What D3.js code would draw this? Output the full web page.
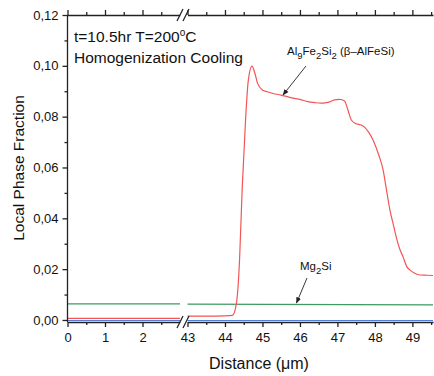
<!DOCTYPE html>
<html>
<head>
<meta charset="utf-8">
<script src="https://cdn.jsdelivr.net/npm/d3@7"></script>
<style>
  html, body { margin: 0; padding: 0; background: #fff; }
  svg { display: block; font-family: "Liberation Sans", Arial, sans-serif; }
</style>
</head>
<body>
<svg id="chart" width="434" height="376"></svg>
<script>
// Broken x axis: a short segment near the origin and the interface region.
const leftDomain = [0, 3];
const rightDomain = [43, 49.55];
const leftTicks = [0, 1, 2];
const rightTicks = [43, 44, 45, 46, 47, 48, 49];
const yTicks = [0, 0.02, 0.04, 0.06, 0.08, 0.10, 0.12];

// Al9Fe2Si2 (beta-AlFeSi) phase fraction
const alfesiLeftX = [0, 3];
const alfesiLeftY = [0.0006, 0.0006];
const alfesiRightX = [43.0, 43.5, 44.0, 44.2, 44.3, 44.39, 44.46, 44.55, 44.62, 44.72, 44.8, 44.87, 45.0, 45.13, 45.3, 45.49, 45.7, 45.85, 46.0, 46.21, 46.4, 46.57, 46.7, 46.79, 46.92, 47.06, 47.19, 47.28, 47.37, 47.5, 47.62, 47.73, 47.85, 47.95, 48.1, 48.22, 48.3, 48.4, 48.5, 48.58, 48.66, 48.75, 48.85, 48.93, 49.05, 49.2, 49.4, 49.55];
const alfesiRightY = [0.0015, 0.0015, 0.0016, 0.0018, 0.006, 0.024, 0.052, 0.079, 0.094, 0.0999, 0.097, 0.0931, 0.0905, 0.0898, 0.089, 0.0885, 0.0877, 0.0872, 0.0868, 0.0859, 0.0855, 0.0853, 0.0855, 0.0858, 0.0866, 0.0868, 0.0862, 0.0826, 0.0787, 0.0772, 0.0768, 0.0758, 0.0735, 0.0708, 0.065, 0.059, 0.052, 0.0433, 0.037, 0.032, 0.028, 0.0249, 0.021, 0.0197, 0.0185, 0.0177, 0.0176, 0.0175];

// Mg2Si phase fraction
const mg2siLeftX = [0, 3];
const mg2siLeftY = [0.0063, 0.0063];
const mg2siRightX = [43, 49.55];
const mg2siRightY = [0.0062, 0.0059];

// Third phase, essentially zero everywhere
const zeroLeftX = [0, 3];
const zeroLeftY = [-0.0002, -0.0002];
const zeroRightX = [43, 49.55];
const zeroRightY = [-0.0002, -0.0002];

const svg = d3.select("#chart");
const yTop = 15, yBottom = 322;
const xLeft = d3.scaleLinear().domain(leftDomain).range([67.5, 180]);
const xRight = d3.scaleLinear().domain(rightDomain).range([187.5, 433]);
const y = d3.scaleLinear().domain([-0.0008, 0.12]).range([yBottom, yTop]);

const comma = d3.formatLocale({decimal: ",", thousands: ".", grouping: [3], currency: ["", ""]});
const fmtY = comma.format(".2f");

const axisColor = "#222";

// Series lines
const series = [
  {lx: zeroLeftX, ly: zeroLeftY, rx: zeroRightX, ry: zeroRightY, color: "#4f7fd8"},
  {lx: mg2siLeftX, ly: mg2siLeftY, rx: mg2siRightX, ry: mg2siRightY, color: "#3c9b62"},
  {lx: alfesiLeftX, ly: alfesiLeftY, rx: alfesiRightX, ry: alfesiRightY, color: "#f25555"}
];
series.forEach(s => {
  const lineL = d3.line().x(d => xLeft(d[0])).y(d => y(d[1]));
  const lineR = d3.line().x(d => xRight(d[0])).y(d => y(d[1])).curve(d3.curveMonotoneX);
  svg.append("path").datum(d3.zip(s.lx, s.ly)).attr("d", lineL)
    .attr("fill", "none").attr("stroke", s.color).attr("stroke-width", 1.2);
  svg.append("path").datum(d3.zip(s.rx, s.ry)).attr("d", lineR)
    .attr("fill", "none").attr("stroke", s.color).attr("stroke-width", 1.2);
});

// Y axis (left), major + minor ticks outward
const yAxis = svg.append("g").attr("transform", "translate(67.5,0)")
  .call(d3.axisLeft(y).tickValues(yTicks).tickFormat(fmtY).tickSize(5).tickSizeOuter(0).tickPadding(4));
svg.append("g").attr("transform", "translate(67.5,0)")
  .call(d3.axisLeft(y).tickValues(d3.range(0.01, 0.12, 0.02)).tickFormat("").tickSize(3).tickSizeOuter(0))
  .select(".domain").remove();
yAxis.select(".domain").attr("d", `M0,${yBottom}V${yTop}`);

function xAxisPair(scale, ticks, minorTicks, yPos, orient) {
  const g = svg.append("g").attr("transform", `translate(0,${yPos})`)
    .call(d3.axisBottom(scale).tickValues(ticks).tickSize(orient === "bottom" ? 5 : -5).tickSizeOuter(0).tickPadding(6)
      .tickFormat(orient === "bottom" ? d3.format("d") : ""));
  svg.append("g").attr("transform", `translate(0,${yPos})`)
    .call(d3.axisBottom(scale).tickValues(minorTicks).tickSize(orient === "bottom" ? 3 : -3).tickSizeOuter(0).tickFormat(""))
    .select(".domain").remove();
  return g;
}
const leftMinor = [0.5, 1.5, 2.5];
const rightMinor = [43.5, 44.5, 45.5, 46.5, 47.5, 48.5, 49.5];
xAxisPair(xLeft, leftTicks, leftMinor, yBottom, "bottom");
xAxisPair(xRight, rightTicks, rightMinor, yBottom, "bottom");
xAxisPair(xLeft, leftTicks, leftMinor, yTop, "top");
xAxisPair(xRight, rightTicks, rightMinor, yTop, "top");

svg.selectAll(".tick text").attr("font-size", 13).attr("fill", "#111")
  .attr("font-family", "'Liberation Sans', Arial, sans-serif");
svg.selectAll(".domain, .tick line").attr("stroke", axisColor).attr("stroke-width", 1.3);

// Axis break marks
[yTop, yBottom].forEach(yy => {
  svg.append("rect").attr("x", 180.5).attr("y", yy - 2).attr("width", 6.5).attr("height", 4).attr("fill", "#fff");
  [180, 186].forEach(x0 => {
    svg.append("line").attr("x1", x0 - 3).attr("y1", yy + 6).attr("x2", x0 + 3).attr("y2", yy - 6)
      .attr("stroke", axisColor).attr("stroke-width", 1.2);
  });
});

// Axis titles
svg.append("text").attr("transform", "translate(24,168) rotate(-90)")
  .attr("text-anchor", "middle").attr("font-size", 15.5).attr("fill", "#111")
  .text("Local Phase Fraction");
svg.append("text").attr("x", 259).attr("y", 369)
  .attr("text-anchor", "middle").attr("font-size", 16).attr("fill", "#111")
  .text("Distance (\u03bcm)");

// Condition labels
const cond = svg.append("text").attr("x", 74).attr("y", 42).attr("font-size", 15.5).attr("fill", "#111");
cond.append("tspan").text("t=10.5hr T=200");
cond.append("tspan").attr("font-size", 10).attr("dy", -6).text("o");
cond.append("tspan").attr("dy", 6).text("C");
svg.append("text").attr("x", 74).attr("y", 63).attr("font-size", 15.5).attr("fill", "#111")
  .text("Homogenization Cooling");

// Phase annotations with arrows
svg.append("defs").append("marker").attr("id", "arrow")
  .attr("viewBox", "0 0 10 10").attr("refX", 9).attr("refY", 5)
  .attr("markerWidth", 7).attr("markerHeight", 7).attr("orient", "auto")
  .append("path").attr("d", "M0,1L10,5L0,9z").attr("fill", "#222");

function phaseLabel(x, yy, parts) {
  const t = svg.append("text").attr("x", x).attr("y", yy).attr("font-size", 11.5).attr("fill", "#111");
  parts.forEach(p => {
    if (p.sub) t.append("tspan").attr("font-size", 9.5).attr("dy", 3.5).text(p.t);
    else t.append("tspan").attr("dy", p.after ? -3.5 : 0).text(p.t);
  });
}
phaseLabel(287, 55, [
  {t: "Al"}, {t: "9", sub: true}, {t: "Fe", after: true}, {t: "2", sub: true},
  {t: "Si", after: true}, {t: "2", sub: true}, {t: " (\u03b2\u2013AlFeSi)", after: true}
]);
svg.append("line").attr("x1", 306).attr("y1", 66).attr("x2", 283).attr("y2", 95)
  .attr("stroke", "#222").attr("stroke-width", 0.9).attr("marker-end", "url(#arrow)");

phaseLabel(300, 270, [{t: "Mg"}, {t: "2", sub: true}, {t: "Si", after: true}]);
svg.append("line").attr("x1", 307).attr("y1", 278).attr("x2", 296.5).attr("y2", 303)
  .attr("stroke", "#222").attr("stroke-width", 0.9).attr("marker-end", "url(#arrow)");
</script>
</body>
</html>
